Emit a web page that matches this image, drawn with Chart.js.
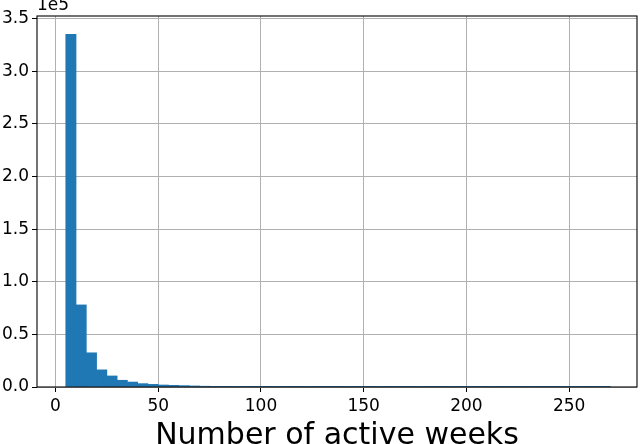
<!DOCTYPE html>
<html>
<head>
<meta charset="utf-8">
<script src="https://cdn.jsdelivr.net/npm/chart.js@4"></script>
<style>
  html, body { margin: 0; padding: 0; background: #fff; }
  #wrap { width: 640px; height: 444px; }
</style>
</head>
<body>
<div id="wrap"><canvas id="myChart" width="640" height="444"></canvas></div>
<script>
// histogram bins: left edge of each bin (weeks), bin width 5
const binStart = 5
const binWidth = 5
const counts = [
  335000, 78000, 32500, 16300, 10500, 6400, 4700, 3200, 2500, 1900,
  1600, 1300, 1000, 750, 150, 120, 95, 80, 65, 55,
  45, 40, 35, 30, 26, 22, 20, 18, 16, 14,
  12, 11, 10, 9, 8, 7, 6, 6, 5, 5,
  4, 4, 3, 3, 3, 2, 2, 2, 2, 1,
  1, 1, 1
]
const xTicks = [0, 50, 100, 150, 200, 250]
const yTicks = [0, 0.5, 1.0, 1.5, 2.0, 2.5, 3.0, 3.5]

const points = counts.map((c, i) => ({ x: binStart + binWidth * i + binWidth / 2, y: c }))

// frame round the plot + the "1e5" offset text
const framePlugin = {
  id: 'frame',
  afterDraw(chart) {
    const { ctx, chartArea: a } = chart
    ctx.save()
    ctx.strokeStyle = '#000'
    ctx.lineWidth = 1.1
    ctx.strokeRect(a.left, a.top, a.right - a.left, a.bottom - a.top)
    ctx.fillStyle = '#000'
    ctx.font = '17px "DejaVu Sans"'
    ctx.textBaseline = 'bottom'
    ctx.textAlign = 'left'
    ctx.fillText('1e5', a.left, a.top - 2)
    ctx.restore()
  }
}

const config = {
  type: 'bar',
  data: {
    datasets: [{
      data: points,
      backgroundColor: '#1f77b4',
      borderWidth: 0,
      barPercentage: 1,
      categoryPercentage: 1
    }]
  },
  options: {
    responsive: false,
    animation: false,
    layout: { padding: { top: 16, right: 3, left: 0, bottom: 0 } },
    plugins: { legend: { display: false }, tooltip: { enabled: false } },
    scales: {
      x: {
        type: 'linear',
        offset: false,
        min: -9,
        max: 283,
        afterBuildTicks: (axis) => { axis.ticks = xTicks.map(v => ({ value: v })) },
        afterFit: (axis) => { axis.height = 57 },
        grid: { offset: false, color: '#b0b0b0', lineWidth: 1, tickColor: '#000', tickLength: 5 },
        border: { display: false },
        ticks: { color: '#000', font: { family: 'DejaVu Sans', size: 17 }, padding: 4, maxRotation: 0 },
        title: {
          display: true,
          text: 'Number of active weeks',
          color: '#000',
          font: { family: 'DejaVu Sans', size: 30 },
          padding: { top: 0, bottom: -10 }
        }
      },
      y: {
        min: 0,
        max: 352500,
        afterBuildTicks: (axis) => { axis.ticks = yTicks.map(v => ({ value: v * 1e5 })) },
        afterFit: (axis) => { axis.width = 37 },
        grid: { color: '#b0b0b0', lineWidth: 1, tickColor: '#000', tickLength: 5 },
        border: { display: false },
        ticks: {
          color: '#000',
          font: { family: 'DejaVu Sans', size: 17 },
          padding: 3,
          callback: (v) => (v / 1e5).toFixed(1)
        }
      }
    }
  },
  plugins: [framePlugin]
}

const myChart = new Chart(document.getElementById('myChart'), config)
</script>
</body>
</html>
